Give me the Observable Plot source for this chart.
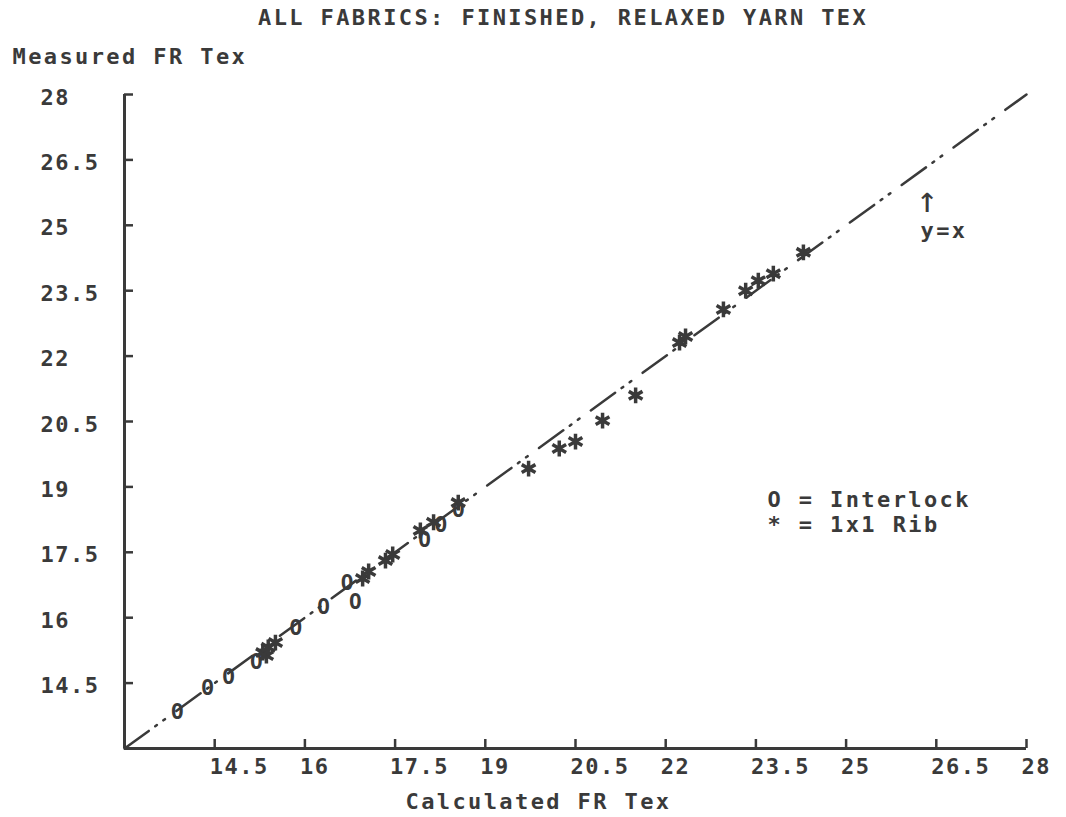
<!DOCTYPE html>
<html>
<head>
<meta charset="utf-8">
<script src="https://cdn.jsdelivr.net/npm/d3@7"></script>
<script src="https://cdn.jsdelivr.net/npm/@observablehq/plot@0.6"></script>
<style>
  body { margin: 0; background: #fff; }
  #title {
    height: 36px; margin: 0; padding: 0;
    font: bold 22px "DejaVu Sans Mono", monospace;
    letter-spacing: 2.4px; color: #3a3a3a;
    line-height: 36px; padding-left: 258px; white-space: pre;
  }
  svg text { letter-spacing: 2.4px; }
  g[aria-label="x-axis tick label"] text,
  g[aria-label="y-axis tick label"] text { letter-spacing: 1.5px; }
</style>
</head>
<body>
<div id="title">ALL FABRICS: FINISHED, RELAXED YARN TEX</div>
<div id="chart"></div>
<script>
// Interlock fabrics (plotted as "O")
const interlockCalc = [13.90, 14.40, 14.75, 15.21, 15.87, 16.33, 16.72, 16.86, 18.01, 18.28, 18.57];
const interlockMeas = [13.83, 14.38, 14.63, 14.97, 15.75, 16.23, 16.78, 16.36, 17.77, 18.11, 18.46];

// 1x1 rib fabrics (plotted as asterisks)
const ribCalc = [15.30, 15.36, 15.39, 15.51, 16.96, 17.06, 17.34, 17.46, 17.92, 18.14, 18.55, 19.72, 20.23, 20.50, 20.95, 21.50, 22.23, 22.33, 22.96, 23.33, 23.54, 23.79, 24.29];
const ribMeas = [15.20, 15.13, 15.32, 15.43, 16.90, 17.06, 17.31, 17.45, 18.00, 18.19, 18.64, 19.42, 19.88, 20.04, 20.52, 21.10, 22.31, 22.45, 23.07, 23.50, 23.73, 23.89, 24.38];

// Axis extent and tick values (same for both axes)
const axisMin = 13;
const axisMax = 28;
const tickValues = [14.5, 16, 17.5, 19, 20.5, 22, 23.5, 25, 26.5, 28];

const interlock = interlockCalc.map((x, i) => ({x, y: interlockMeas[i]}));
const rib = ribCalc.map((x, i) => ({x, y: ribMeas[i]}));
const identity = [axisMin, axisMax].map(v => ({x: v, y: v}));

const ink = "#3a3a3a";
const W = 1066, H = 781;
const mTop = 58, mBottom = 69, mLeft = 124, mRight = 40;
const frameH = H - mTop - mBottom;
const frameW = W - mLeft - mRight;
const label = d => String(d);

const chart = Plot.plot({
  width: W,
  height: H,
  marginTop: mTop,
  marginBottom: mBottom,
  marginLeft: mLeft,
  marginRight: mRight,
  style: {fontFamily: "'DejaVu Sans Mono', monospace", fontSize: "22px", fontWeight: "bold", color: ink, background: "#fff"},
  x: {domain: [axisMin, axisMax]},
  y: {domain: [axisMin, axisMax]},
  marks: [
    // y = x reference line, dash-dot-dot
    Plot.line(identity, {x: "x", y: "y", stroke: ink, strokeWidth: 2.5, strokeDasharray: "30,8,2,8,2,14"}),
    // axis lines
    Plot.ruleY([axisMin], {stroke: ink, strokeWidth: 3}),
    Plot.ruleX([axisMin], {stroke: ink, strokeWidth: 3}),
    // inward tick marks
    Plot.tickX(tickValues, {x: d => d, stroke: ink, strokeWidth: 2.5, insetTop: frameH - 9}),
    Plot.tickY(tickValues, {y: d => d, stroke: ink, strokeWidth: 2.5, insetRight: frameW - 9}),
    // tick labels
    Plot.axisX({ticks: tickValues, tickFormat: label, tickSize: 0, tickPadding: 10, textAnchor: "start", dx: -5, fill: ink, label: null}),
    Plot.axisY({ticks: tickValues, tickFormat: label, tickSize: 0, tickPadding: 84, textAnchor: "start", dy: 3, fill: ink, label: null}),
    // data
    Plot.dot(rib, {x: "x", y: "y", symbol: "asterisk", r: 7.5, stroke: ink, strokeWidth: 3.5}),
    Plot.text(interlock, {x: "x", y: "y", text: () => "O", fill: ink, fontSize: 21, fontWeight: "bold"}),
    // axis titles
    Plot.text(["Measured FR Tex"], {frameAnchor: "top-left", text: label, textAnchor: "start", lineAnchor: "bottom", dx: -112, dy: -31, fill: ink}),
    Plot.text(["Calculated FR Tex"], {frameAnchor: "bottom-left", text: label, textAnchor: "start", lineAnchor: "bottom", dx: 281, dy: 60, fill: ink}),
    // key
    Plot.text(["O = Interlock"], {frameAnchor: "top-left", text: label, textAnchor: "start", lineAnchor: "middle", dx: 643, dy: 405, fill: ink}),
    Plot.text(["* = 1x1 Rib"], {frameAnchor: "top-left", text: label, textAnchor: "start", lineAnchor: "middle", dx: 643, dy: 430, fill: ink}),
    // identity line annotation
    Plot.text(["↑"], {frameAnchor: "top-left", text: label, textAnchor: "middle", lineAnchor: "middle", dx: 804, dy: 106, fill: ink, fontSize: 36, fontWeight: "normal"}),
    Plot.text(["y=x"], {frameAnchor: "top-left", text: label, textAnchor: "start", lineAnchor: "middle", dx: 796, dy: 136, fill: ink})
  ]
});

document.getElementById("chart").appendChild(chart);
</script>
</body>
</html>
